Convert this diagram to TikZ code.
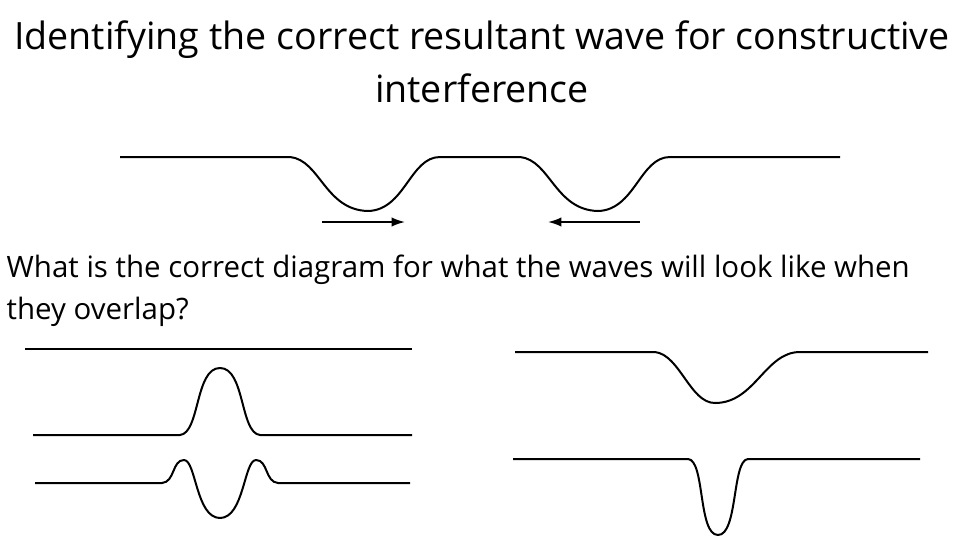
\documentclass[tikz,border=0pt]{standalone}
\usepackage{fontspec}
\setmainfont{Open Sans}
\usetikzlibrary{arrows.meta}
\begin{document}
\begin{tikzpicture}[x=0.75pt,y=-0.75pt,wave/.style={line width=1.5pt,line join=round},arr/.style={line width=1.3pt,-{Latex[length=10pt,width=7pt]}}]
\useasboundingbox (0,0) rectangle (960,540);
\node (t1) at (482,40) {\fontsize{28.2}{32}\selectfont Identifying the correct resultant wave for constructive};
\node (t2) at (482,88) {\fontsize{28.2}{32}\selectfont interference};
\draw[wave] (120,157) -- (290,157) .. controls (320,160) and (325,210) .. (368,211) .. controls (405,210) and (410,157) .. (440,157) -- (520,157) .. controls (550,160) and (555,210) .. (598,211) .. controls (635,210) and (640,157) .. (670,157) -- (840,157);
\coordinate (a1) at (322,222); \coordinate (a2) at (405,222);
\coordinate (b1) at (640,222); \coordinate (b2) at (548,222);
\draw[arr] (a1) -- (a2);
\draw[arr] (b1) -- (b2);
\node[anchor=west] (q1) at (2,270) {\fontsize{22.1}{26}\selectfont What is the correct diagram for what the waves will look like when};
\node[anchor=west] (q2) at (2,312) {\fontsize{22.1}{26}\selectfont they overlap?};
\draw[line width=2.2pt] (25,349) -- (412,349);
\draw[wave] (33,435) -- (180,435) .. controls (200,433) and (195,368) .. (220,368) .. controls (245,368) and (240,433) .. (260,435) -- (412,435);
\draw[wave] (35,483) -- (162,483) .. controls (175,482) and (172,460) .. (184,460) .. controls (196,460) and (196,518) .. (220,518) .. controls (244,518) and (244,460) .. (256,460) .. controls (268,460) and (265,482) .. (278,483) -- (410,483);
\draw[wave] (515,352) -- (655,352) .. controls (680,355) and (690,403) .. (715,403) .. controls (755,403) and (765,352) .. (800,352) -- (928,352);
\draw[wave] (513,459) -- (688,459) .. controls (705,460) and (698,535) .. (718,535) .. controls (738,535) and (732,460) .. (748,459) -- (920,459);
\end{tikzpicture}
\end{document}
